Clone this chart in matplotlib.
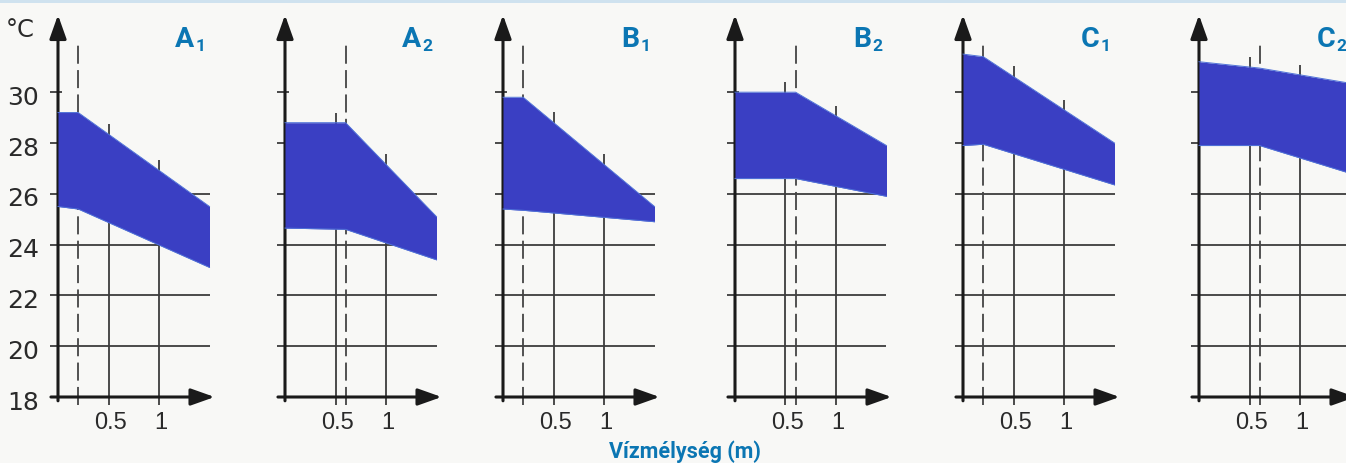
import matplotlib
matplotlib.use("Agg")
import matplotlib.pyplot as plt
from matplotlib.patches import Rectangle
import numpy as np

# --- data -----------------------------------------------------------------
panel_letters = ["A", "A", "B", "B", "C", "C"]
panel_indices = ["1", "2", "1", "2", "1", "2"]

# depth (m) of the dashed reference line, which is also the band's knee
knee_depth = [0.2, 0.6, 0.2, 0.6, 0.2, 0.6]

# band outline: depths and the upper / lower water temperature (°C)
band_depths = [
    [0.0, 0.2, 1.5],
    [0.0, 0.6, 1.5],
    [0.0, 0.2, 1.5],
    [0.0, 0.6, 1.5],
    [0.0, 0.2, 1.5],
    [0.0, 0.6, 1.5],
]
band_upper = [
    [29.2, 29.2, 25.5],
    [28.8, 28.8, 25.1],
    [29.8, 29.8, 25.5],
    [30.0, 30.0, 27.9],
    [31.5, 31.4, 28.0],
    [31.2, 30.95, 30.35],
]
band_lower = [
    [25.5, 25.4, 23.1],
    [24.65, 24.6, 23.4],
    [25.4, 25.35, 24.9],
    [26.6, 26.6, 25.9],
    [27.9, 27.95, 26.35],
    [27.9, 27.9, 26.8],
]

temp_ticks = [18, 20, 22, 24, 26, 28, 30]
temp_labels = ["18", "20", "22", "24", "26", "28", "30"]
depth_ticks = [0.5, 1.0]
depth_labels = ["0.5", "1"]
x_title = "Vízmélység (m)"
unit_label = "°C"

# --- layout ---------------------------------------------------------------
W, H = 1346, 463
BG = "#f8f8f6"
BAND = "#3a3fc3"
BLUE_TXT = "#0b76b3"
INK = "#1a1a1a"
GRID = "#3c3c3c"

PX_X = 101.0     # pixels per metre
PX_Y = 25.4      # pixels per °C
axis_px = [58, 285, 503, 735, 963, 1199]   # pixel column of each y-axis
base_px = 397                              # pixel row of the 18 °C baseline

XLIM = (-0.55, 1.62)
YLIM = (16.8, 33.5)

fig = plt.figure(figsize=(W / 100, H / 100), dpi=100, facecolor=BG)
fig.add_artist(Rectangle((0, 1 - 3 / H), 1, 3 / H, transform=fig.transFigure,
                         color="#cfe2ef", lw=0))

for i in range(6):
    left_px = axis_px[i] + XLIM[0] * PX_X
    width_px = (XLIM[1] - XLIM[0]) * PX_X
    bottom_top_px = base_px + (18 - YLIM[0]) * PX_Y
    height_px = (YLIM[1] - YLIM[0]) * PX_Y
    ax = fig.add_axes([left_px / W, (H - bottom_top_px) / H,
                       width_px / W, height_px / H])
    ax.set_xlim(*XLIM)
    ax.set_ylim(*YLIM)
    ax.axis("off")
    ax.patch.set_alpha(0)

    xs = np.array(band_depths[i])
    up = np.array(band_upper[i])
    lo = np.array(band_lower[i])

    # horizontal grid lines and axis tick stubs
    for t in temp_ticks[1:]:
        if t <= 26:
            ax.plot([-0.08, 1.5], [t, t], color=GRID, lw=1.3, zorder=2,
                    solid_capstyle="butt")
        else:
            ax.plot([-0.08, 0.04], [t, t], color=GRID, lw=1.3, zorder=2,
                    solid_capstyle="butt")

    # vertical grid lines, reaching slightly above the band
    for d in depth_ticks:
        top = np.interp(d, xs, up) + 0.4
        ax.plot([d, d], [17.7, top], color=GRID, lw=1.3, zorder=2,
                solid_capstyle="butt")

    # dashed reference depth
    ax.plot([knee_depth[i], knee_depth[i]], [17.7, 32.0], color="#444444",
            lw=1.3, ls=(0, (10, 3.5)), zorder=2)

    # temperature band
    ax.fill_between(xs, lo, up, color=BAND, lw=0, zorder=3)
    ax.plot(xs, up, color="#4f72d8", lw=0.7, zorder=3)
    ax.plot(xs, lo, color="#4f72d8", lw=0.7, zorder=3)

    # axes with arrow heads
    arrow = dict(arrowstyle="-|>,head_length=0.9,head_width=0.32", lw=2.2,
                 color=INK, mutation_scale=16, shrinkA=0, shrinkB=0)
    ax.annotate("", xy=(0, 33.04), xytext=(0, 17.85), arrowprops=arrow,
                zorder=2)
    ax.annotate("", xy=(1.55, 18), xytext=(-0.07, 18), arrowprops=arrow,
                zorder=4)

    # depth tick labels
    for d, lab in zip(depth_ticks, depth_labels):
        ax.text(d + 0.02, 16.98, lab, ha="center", va="center",
                fontsize=17, color="#2a2a2a", family="Liberation Sans")

    # panel label with subscript
    ax.text(1.35, 31.78, panel_letters[i], ha="right", va="baseline",
            fontsize=20.5, fontweight="bold", color=BLUE_TXT, family="Roboto")
    ax.text(1.365, 31.64, panel_indices[i], ha="left", va="baseline",
            fontsize=12.5, fontweight="bold", color=BLUE_TXT, family="Roboto")

    if i == 0:
        for t, lab in zip(temp_ticks, temp_labels):
            ax.text(-0.19, t - 0.22, lab, ha="right", va="center",
                    fontsize=18, color="#2a2a2a", family="DejaVu Sans")
        ax.text(-0.37, 32.45, unit_label, ha="center", va="center",
                fontsize=17.5, color="#2a2a2a", family="DejaVu Sans")

fig.text(685 / W, (H - 452) / H, x_title, ha="center", va="center",
         fontsize=15.5, fontweight="bold", color=BLUE_TXT, family="Roboto")

fig.savefig("out.png", dpi=100, facecolor=BG)
